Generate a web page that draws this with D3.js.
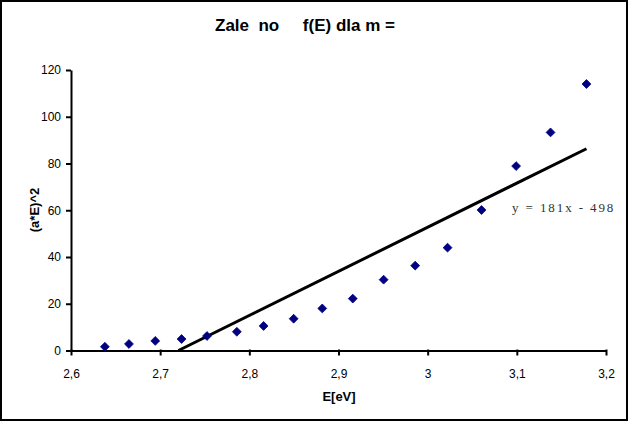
<!DOCTYPE html>
<html><head><meta charset="utf-8">
<script src="https://cdn.jsdelivr.net/npm/d3@7"></script>
<style>body{margin:0;background:#fff}svg{display:block}</style>
</head><body>
<svg id="c" width="629" height="422"></svg>
<script>
const energy = [2.638, 2.665, 2.6945, 2.724, 2.7525, 2.786, 2.816, 2.8497, 2.8818, 2.916, 2.9506, 2.986, 3.0223, 3.0604, 3.0992, 3.1378, 3.1781];
const values = [1.6, 2.8, 4.1, 4.9, 6.2, 8.0, 10.5, 13.6, 18.0, 22.2, 30.3, 36.3, 44.0, 60.1, 78.9, 93.3, 114.0];
const xTicks = [2.6, 2.7, 2.8, 2.9, 3.0, 3.1, 3.2];
const yTicks = [0, 20, 40, 60, 80, 100, 120];
const title = "Zale  no     f(E) dla m =";
const xLabel = "E[eV]";
const yLabel = "(a*E)^2";
const eqLabel = "y = 181x - 498";

const svg = d3.select("#c");
svg.append("rect").attr("x",1).attr("y",1).attr("width",626).attr("height",419)
  .attr("fill","#fff").attr("stroke","#000").attr("stroke-width",2);

const x = d3.scaleLinear().domain([2.6,3.2]).range([71,606]);
const y = d3.scaleLinear().domain([0,120]).range([350.5,70]);
const fmt = d => d3.format(".1f")(d).replace(/\.0$/,"").replace(".",",");

const xa = svg.append("g").attr("transform","translate(0,350.5)")
  .call(d3.axisBottom(x).tickValues(xTicks).tickFormat(fmt).tickSize(5).tickSizeOuter(0));
const ya = svg.append("g").attr("transform","translate(71,0)")
  .call(d3.axisLeft(y).tickValues(yTicks).tickSize(5).tickSizeOuter(0));
[xa,ya].forEach(a=>{
  a.select(".domain").attr("stroke","#000").attr("stroke-width",2);
  a.selectAll(".tick line").attr("stroke","#000").attr("stroke-width",2);
  a.selectAll("text").attr("font-family","Liberation Sans, Arial, sans-serif").attr("font-size",12).attr("fill","#000");
});
xa.selectAll(".tick line").attr("y1",-1).attr("y2",5);
xa.selectAll("text").attr("dy","0").attr("y",27);
ya.selectAll("text").attr("x",-10);

// linear regression trendline
const mx = d3.mean(energy), my = d3.mean(values);
const sxy = d3.sum(energy,(e,i)=>(e-mx)*(values[i]-my));
const sxx = d3.sum(energy,e=>(e-mx)*(e-mx));
const slope = sxy/sxx, icpt = my - slope*mx;
const x0 = Math.max(d3.min(energy), -icpt/slope), x1 = d3.max(energy);
svg.append("line")
  .attr("x1",x(x0)).attr("y1",y(slope*x0+icpt))
  .attr("x2",x(x1)).attr("y2",y(slope*x1+icpt))
  .attr("stroke","#000").attr("stroke-width",3);

const sym = d3.symbol().type(d3.symbolDiamond2).size(50);
svg.append("g").selectAll("path").data(energy).join("path")
  .attr("d",sym).attr("transform",(d,i)=>`translate(${x(d)},${y(values[i])})`)
  .attr("fill","#000080").attr("stroke","#000080").attr("stroke-width",0.8);

svg.append("text").attr("x",512).attr("y",212).text(eqLabel)
  .attr("font-family","Liberation Serif, Times New Roman, serif").attr("font-size",13)
  .attr("letter-spacing",1.9).attr("fill","#333").style("white-space","pre");

svg.append("text").attr("x",305).attr("y",31).attr("text-anchor","middle").text(title)
  .attr("font-family","Liberation Sans, Arial, sans-serif").attr("font-size",17).attr("font-weight","bold")
  .style("white-space","pre");
svg.append("text").attr("x",339).attr("y",401).attr("text-anchor","middle").text(xLabel)
  .attr("font-family","Liberation Sans, Arial, sans-serif").attr("font-size",13).attr("font-weight","bold");
svg.append("text").attr("transform","translate(39,210) rotate(-90)").attr("text-anchor","middle").text(yLabel)
  .attr("font-family","Liberation Sans, Arial, sans-serif").attr("font-size",13).attr("font-weight","bold");
</script>
</body></html>
